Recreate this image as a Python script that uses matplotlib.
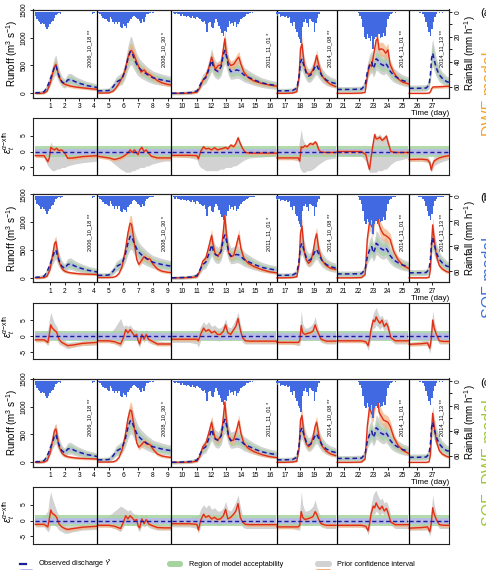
#!/usr/bin/env python3

import numpy as np
import matplotlib
matplotlib.use('Agg')
from matplotlib import pyplot as plt
from matplotlib.lines import Line2D
from matplotlib.patches import FancyBboxPatch

plt.rcParams['font.family'] = ['Liberation Sans', 'DejaVu Sans']
plt.rcParams['mathtext.fontset'] = 'custom'
plt.rcParams['mathtext.rm'] = 'Liberation Sans'
plt.rcParams['mathtext.it'] = 'Liberation Sans:italic'
plt.rcParams['axes.unicode_minus'] = False
plt.rcParams['axes.linewidth'] = 0.8
plt.rcParams['axes.edgecolor'] = '#222222'

FIG_W, FIG_H, DPI = 486, 570, 100
LEFT, RIGHT = 33, 449
RUN_TOP, RUN_H = 9.5, 88
RES_TOP, RES_H = 118, 56.5
ROW_STEP = 184.5

GREY = '#d2d2d2'
GREEN = '#a6d49e'
LAVENDER = '#b7b7ee'
ORANGE = '#f6b07e'
RED = '#de2f1b'
NAVY = '#1c1c9c'
RAIN_COLOR = '#4169e1'

# ---- events -------------------------------------------------------------
EVENT_NAMES = ['2006_10_18 **', '2008_10_30 *', '2011_11_01 *',
               '2014_10_08 **', '2014_11_01 **', '2014_11_13 **']
EVENT_END = [4.22, 9.25, 16.42, 20.52, 25.43, 28.16]

# ---- rainfall (mm/h), one bar every 0.1 day from RAIN_START ---------------
RAIN_START = [0.0, 4.3, 9.4, 16.4, 22.0, 26.1]
RAIN = [
    [3, 6, 7, 8, 10, 9, 10, 12, 14, 12, 10, 8, 7, 5, 2.5, 1.5, 1, 1.5, 0.5, 0,
     0, 0, 0, 0, 0, 0, 0, 0, 0, 0, 0, 0, 0, 0, 0, 0, 0, 0, 0, 1.5, 1],
    [1, 2, 3, 5, 6, 6, 7, 8, 4, 6, 8, 10, 8, 10, 8, 12, 13, 10, 11, 13, 9, 7, 6, 4,
     3, 4, 5, 6, 7, 9, 6, 8, 4, 2, 1.5, 1, 0.5, 1],
    [1, 2, 1, 2, 2, 3, 2, 3, 3, 4, 3, 4, 5, 3, 5, 6, 4, 5, 6, 7, 8, 7, 10, 16, 9, 8,
     12, 13, 9, 6, 8, 11, 14, 17, 19, 15, 16, 12, 7, 10, 9, 11, 8, 12, 10, 8, 6, 5,
     4, 3, 2, 1.5, 1, 0.5, 1, 0.5],
    [2, 3, 2, 4, 3, 3, 4, 3, 5, 4, 9, 11, 8, 14, 16, 20, 22, 25, 12, 8, 6, 9, 12, 6,
     7, 8, 16, 9, 5, 2],
    [1, 3, 6, 12, 20, 22, 18, 21, 23, 19, 30, 22, 20, 22, 18, 21, 20, 17, 19, 12, 6,
     3, 2, 1, 0.5, 1],
    [0.5, 1, 0.5, 2, 4, 8, 12, 16, 19, 14, 8, 4, 2, 0.5, 1, 0.5, 1, 0.5],
]

# ---- runoff (m3/s) ---------------------------------------------------------
RUN_T = [
    [0.0, 0.3, 0.6, 0.8, 1.0, 1.2, 1.3, 1.4, 1.5, 1.6, 1.8, 2.0, 2.2, 2.4, 2.7, 3.0, 3.5, 4.2],
    [4.25, 4.6, 5.0, 5.3, 5.5, 5.7, 5.9, 6.1, 6.3, 6.45, 6.55, 6.7, 6.9, 7.05, 7.2, 7.4, 7.6,
     7.8, 8.0, 8.3, 8.6, 9.0, 9.24],
    [9.3, 10.0, 10.6, 11.0, 11.2, 11.4, 11.6, 11.8, 12.0, 12.1, 12.25, 12.45, 12.65, 12.8, 12.9,
     13.0, 13.15, 13.3, 13.5, 13.7, 13.85, 14.0, 14.2, 14.5, 14.9, 15.4, 15.9, 16.4],
    [16.45, 17.0, 17.5, 17.8, 17.95, 18.05, 18.15, 18.3, 18.45, 18.6, 18.75, 18.9, 19.05, 19.15,
     19.3, 19.5, 19.8, 20.1, 20.45],
    [20.55, 21.5, 22.2, 22.45, 22.6, 22.75, 22.9, 23.0, 23.1, 23.2, 23.3, 23.4, 23.55, 23.7,
     23.85, 24.0, 24.15, 24.4, 24.7, 25.0, 25.4],
    [25.45, 26.0, 26.6, 26.8, 26.9, 26.97, 27.05, 27.15, 27.3, 27.5, 27.7, 28.0, 28.15],
]
OBS = [
    [10, 12, 30, 110, 240, 390, 470, 500, 400, 320, 210, 170, 240, 250, 210, 180, 140, 105],
    [45, 45, 50, 120, 200, 230, 260, 400, 620, 740, 750, 640, 520, 460, 420, 380, 340, 310,
     280, 260, 240, 220, 210],
    [0, 5, 15, 40, 140, 240, 280, 420, 590, 500, 420, 390, 480, 700, 770, 680, 480, 390, 400,
     420, 410, 380, 330, 290, 240, 190, 160, 140],
    [45, 45, 50, 90, 300, 560, 620, 480, 360, 310, 330, 400, 480, 510, 420, 320, 240, 200, 175],
    [70, 70, 75, 150, 380, 500, 560, 450, 500, 620, 600, 560, 520, 500, 540, 480, 400, 320,
     270, 230, 200],
    [90, 90, 95, 150, 350, 620, 720, 600, 450, 330, 270, 210, 200],
]
SIM_DWF = [
    [0, 0, 5, 40, 170, 380, 480, 520, 420, 300, 200, 165, 145, 130, 115, 105, 90, 72],
    [5, 5, 8, 40, 100, 180, 280, 400, 640, 760, 770, 700, 560, 470, 380, 420, 360, 330, 290,
     230, 190, 160, 150],
    [0, 0, 5, 20, 100, 230, 300, 450, 650, 560, 430, 500, 510, 800, 980, 700, 560, 500, 520,
     600, 650, 520, 380, 280, 220, 180, 150, 130],
    [0, 0, 5, 30, 300, 800, 890, 520, 380, 340, 360, 420, 560, 680, 500, 320, 220, 160, 120],
    [0, 0, 5, 20, 300, 520, 480, 650, 800, 950, 980, 780, 800, 780, 720, 780, 520, 370, 260,
     200, 170],
    [0, 0, 0, 5, 30, 80, 110, 115, 115, 118, 120, 125, 125],
]
SIM_SOF = [
    [0, 0, 5, 30, 150, 450, 610, 650, 480, 300, 170, 120, 100, 90, 80, 72, 66, 60],
    [5, 5, 5, 10, 30, 80, 200, 450, 800, 980, 960, 700, 330, 240, 300, 380, 340, 340, 250,
     160, 120, 100, 95],
    [0, 0, 5, 20, 120, 300, 350, 550, 760, 600, 420, 400, 480, 850, 1120, 800, 450, 380, 400,
     600, 760, 520, 350, 260, 200, 150, 110, 90],
    [0, 0, 5, 20, 250, 800, 930, 480, 320, 260, 300, 450, 700, 790, 500, 320, 220, 170, 150],
    [0, 0, 5, 60, 700, 1000, 920, 890, 1150, 1250, 1280, 950, 850, 780, 760, 730, 690, 470,
     320, 230, 170],
    [0, 0, 0, 10, 150, 600, 950, 700, 400, 220, 160, 110, 100],
]
SIM_SOFDWF = [
    [0, 0, 5, 30, 160, 430, 570, 600, 460, 290, 170, 120, 100, 90, 80, 72, 66, 60],
    [5, 5, 5, 10, 30, 90, 220, 450, 780, 940, 920, 680, 350, 270, 310, 370, 330, 320, 240,
     150, 115, 95, 90],
    [0, 0, 5, 20, 110, 280, 340, 520, 720, 580, 420, 410, 470, 820, 1080, 780, 460, 390, 400,
     580, 740, 510, 340, 250, 190, 140, 105, 85],
    [0, 0, 5, 20, 250, 760, 840, 470, 330, 280, 320, 450, 650, 720, 480, 300, 200, 150, 120],
    [0, 0, 5, 60, 650, 990, 870, 860, 1080, 1200, 1210, 900, 830, 760, 740, 720, 650, 450,
     300, 220, 160],
    [0, 0, 0, 10, 140, 560, 880, 650, 380, 210, 150, 105, 95],
]

# ---- residuals eps_t^(alpha-xth) ---------------------------------------------
RES_T = [
    [0.0, 0.6, 0.85, 0.95, 1.05, 1.15, 1.3, 1.45, 1.6, 1.8, 2.0, 2.2, 2.6, 3.2, 4.2],
    [4.25, 5.0, 5.4, 5.8, 6.0, 6.15, 6.3, 6.45, 6.6, 6.75, 6.9, 7.0, 7.1, 7.25, 7.4, 7.55,
     7.7, 7.9, 8.3, 8.8, 9.24],
    [9.3, 10.5, 11.0, 11.1, 11.25, 11.45, 11.6, 11.8, 12.0, 12.2, 12.4, 12.6, 12.8, 12.95,
     13.1, 13.3, 13.5, 13.65, 13.8, 13.95, 14.1, 14.3, 14.6, 15.2, 16.4],
    [16.45, 17.5, 17.9, 18.0, 18.1, 18.2, 18.35, 18.5, 18.7, 18.9, 19.05, 19.15, 19.3, 19.45,
     19.8, 20.45],
    [20.55, 22.2, 22.5, 22.65, 22.75, 22.85, 23.0, 23.1, 23.2, 23.3, 23.45, 23.6, 23.75, 23.9,
     24.0, 24.2, 24.5, 25.4],
    [25.45, 26.3, 26.7, 26.85, 26.95, 27.05, 27.15, 27.3, 27.5, 27.8, 28.15],
]
RES_DWF = [
    [-1.3, -1.3, -3.2, -2.0, 1.3, 0.9, 0.5, 1.0, 0.3, 0.5, -0.5, -2.1, -2.0, -1.6, -1.3],
    [-1.5, -2.0, -2.5, -2.0, -1.5, -1.0, -0.5, 0.5, -0.3, 0.5, -0.5, -1.0, 0.5, 1.3, 0.0, 0.5,
     -0.5, -1.5, -2.0, -2.0, -2.0],
    [-1.2, -1.2, -1.3, -2.3, 0.0, 1.5, 0.8, 1.0, 0.5, 1.2, 0.5, 0.8, 1.0, 1.3, 0.8, 2.0, 1.5,
     2.5, 4.3, 2.5, 1.0, -0.3, -0.5, -0.5, -0.5],
    [-2.0, -2.0, -2.0, -3.0, 1.5, 1.2, 1.8, 1.5, 2.5, 2.2, 3.0, 2.5, 0.5, -0.2, -0.3, -0.3],
    [0.0, 0.0, -1.0, -4.0, -5.6, -2.0, 2.5, 5.3, 4.0, 4.0, 4.5, 3.5, 4.0, 4.8, 3.0, 0.0, -0.3, -0.3],
    [-2.5, -2.4, -2.6, -3.5, -5.8, -4.0, -3.0, -2.5, -2.0, -1.6, -1.3],
]
RES_SOF = [
    [-1.2, -1.2, -2.0, 0.5, 3.5, 2.5, 1.8, 1.2, -1.0, -2.0, -2.5, -3.0, -2.8, -2.3, -2.0],
    [-1.5, -1.5, -1.8, -2.5, -0.5, 2.0, 1.0, 2.0, 1.0, 0.0, 0.5, -1.5, -2.5, 0.5, -1.0, 0.5,
     -1.0, -1.5, -2.5, -2.5, -2.5],
    [-1.0, -1.0, -1.0, -1.5, 0.5, 2.5, 1.5, 2.0, 1.0, 1.5, 0.5, 0.5, 1.5, 3.5, 1.0, 0.5, 2.0,
     3.0, 5.5, 2.0, -0.5, -1.5, -1.6, -1.6, -1.6],
    [-2.0, -2.0, -2.0, -1.5, 3.3, 1.0, 0.5, 0.8, 1.0, 1.5, 3.5, 2.0, 0.5, -1.0, -1.6, -1.6],
    [-1.5, -1.5, -1.8, -3.0, -1.0, 2.0, 5.0, 4.5, 6.0, 5.0, 4.0, 5.0, 3.0, 4.0, 3.0, -0.5, -1.5, -1.5],
    [-2.6, -2.4, -2.2, -3.8, -1.0, 5.0, 2.5, 0.5, -1.5, -1.7, -1.7],
]
RES_SOFDWF = [
    [-1.2, -1.2, -2.0, 0.5, 3.3, 2.2, 1.8, 1.0, -1.0, -2.0, -2.5, -2.8, -2.5, -2.1, -1.8],
    [-1.5, -1.5, -1.8, -2.5, -0.5, 1.5, 0.5, 1.5, 0.8, 0.0, 0.3, -1.8, -2.3, 0.5, -1.0, 0.3,
     -1.0, -1.5, -2.2, -2.3, -2.3],
    [-1.0, -1.0, -1.2, -3.0, 0.0, 2.0, 1.0, 1.5, 0.5, 1.0, 0.3, 0.5, 1.5, 3.5, 0.5, 1.0, 2.0,
     3.0, 5.3, 1.0, -0.5, -1.2, -1.3, -1.3, -1.3],
    [-2.0, -2.0, -2.0, -1.5, 2.8, 1.0, 0.3, 0.5, 0.8, 1.2, 2.8, 2.0, 0.3, -1.0, -1.5, -1.5],
    [-1.5, -1.5, -1.8, -3.2, -1.0, 2.0, 4.5, 4.0, 5.5, 4.5, 3.5, 4.5, 3.0, 3.8, 2.5, -0.5, -1.3, -1.3],
    [-2.4, -2.2, -2.0, -3.5, -1.0, 4.0, 2.0, 0.3, -1.3, -1.5, -1.5],
]

# prior confidence interval of the residuals
PRIOR_LO_DWF = [
    [-1.5, -2.0, -4.5, -5.0, -5.5, -6.0, -6.0, -5.5, -5.5, -5.0, -5.0, -4.5, -4.0, -3.5, -3.0],
    [-1.5, -2.5, -4.0, -5.5, -6.0, -6.5, -6.5, -6.5, -6.0, -6.0, -5.5, -5.5, -5.0, -5.0, -5.0,
     -4.5, -4.5, -4.0, -3.5, -3.0, -3.0],
    [-1.5, -2.0, -2.5, -4.0, -5.0, -5.5, -6.0, -6.0, -6.0, -6.0, -6.0, -5.5, -5.5, -5.0, -5.0,
     -5.0, -4.5, -4.5, -4.0, -3.5, -3.0, -2.5, -2.0, -1.8, -1.5],
    [-2.5, -2.5, -3.0, -5.0, -6.0, -6.5, -6.5, -6.0, -6.0, -5.5, -5.0, -4.5, -4.0, -3.5, -2.5, -2.0],
    [-1.0, -1.5, -3.0, -5.5, -6.5, -6.5, -6.5, -6.5, -6.5, -6.0, -6.0, -6.0, -5.5, -5.5, -5.0,
     -4.0, -3.0, -2.0],
    [-3.0, -3.0, -3.5, -4.5, -6.5, -5.5, -4.5, -4.0, -3.5, -3.0, -2.5],
]
PRIOR_HI_DWF = [
    [1.0, 1.0, 1.0, 1.2, 3.0, 2.0, 1.5, 1.5, 1.2, 1.0, 1.0, 1.0, 1.0, 1.0, 1.0],
    [1.0, 1.0, 1.0, 1.0, 1.0, 1.0, 1.0, 1.5, 1.0, 1.5, 1.0, 1.0, 1.5, 2.0, 1.0, 1.5, 1.0, 1.0,
     1.0, 1.0, 1.0],
    [1.0, 1.0, 1.0, 1.0, 1.0, 2.0, 1.5, 1.5, 1.0, 1.5, 1.0, 1.0, 1.5, 2.0, 1.5, 2.5, 2.0, 3.0,
     5.0, 3.0, 1.5, 1.0, 1.0, 1.0, 1.0],
    [1.0, 1.0, 1.0, 4.0, 7.0, 4.0, 2.5, 2.0, 3.0, 3.0, 3.5, 3.0, 1.0, 1.0, 1.0, 1.0],
    [1.0, 1.0, 1.0, 1.0, 1.0, 1.5, 3.5, 6.0, 5.0, 5.0, 5.5, 4.5, 5.0, 5.5, 4.0, 1.0, 1.0, 1.0],
    [-1.5, -1.5, -1.5, -2.5, -4.0, -2.5, -1.5, -1.0, -0.5, -0.5, -0.5],
]
PRIOR_LO_SOF = [
    [-1.8, -1.8, -3.0, -2.0, 0.5, 0.0, -0.5, -1.0, -2.5, -3.0, -3.5, -4.0, -3.5, -3.0, -2.8],
    [-2.0, -2.0, -2.5, -3.5, -2.0, -0.5, -1.0, -0.5, -1.0, -1.5, -1.0, -3.0, -3.5, -1.0, -2.0,
     -1.0, -2.0, -2.5, -3.0, -3.0, -3.0],
    [-2.0, -2.0, -2.5, -3.5, -1.5, 0.5, -0.5, 0.0, -1.0, -0.5, -1.5, -1.5, -0.5, 1.0, -1.0,
     -1.5, 0.0, 0.5, 2.0, 0.0, -2.0, -2.5, -2.5, -2.5, -2.5],
    [-2.5, -2.5, -3.0, -3.0, 0.5, -1.0, -1.5, -1.0, -1.0, -0.5, 1.0, 0.0, -1.0, -2.0, -2.5, -2.5],
    [-2.0, -2.0, -2.5, -4.5, -3.0, 0.0, 2.5, 2.5, 3.5, 3.0, 2.0, 3.0, 1.5, 2.0, 1.0, -1.5, -2.5, -2.5],
    [-3.0, -3.0, -3.0, -5.5, -3.0, 2.0, 0.5, -1.0, -2.5, -2.5, -2.5],
]
PRIOR_HI_SOF = [
    [-0.5, 0.0, 2.0, 5.0, 7.5, 6.0, 4.0, 3.0, 1.0, 0.0, -1.5, -2.0, -1.8, -1.5, -1.2],
    [0.0, 0.5, 2.5, 5.5, 3.0, 3.5, 3.0, 3.5, 2.5, 2.0, 2.0, 0.5, 0.0, 2.0, 1.0, 2.0, 0.5, 0.0,
     -1.5, -1.8, -1.8],
    [0.0, 0.5, 1.0, 1.0, 3.0, 4.5, 3.5, 4.5, 3.0, 3.5, 2.5, 2.5, 3.5, 5.5, 3.0, 2.5, 4.0, 5.5,
     7.5, 4.0, 1.0, 0.0, -0.5, -0.8, -0.8],
    [-1.0, -1.0, -0.5, 2.0, 8.0, 4.0, 2.5, 2.5, 3.0, 4.0, 6.0, 4.0, 2.0, 0.5, -1.0, -1.0],
    [-1.0, -1.0, -1.0, -1.0, 1.0, 4.0, 7.0, 8.0, 9.0, 7.5, 6.0, 6.5, 5.0, 5.5, 4.5, 1.0, -0.8, -0.8],
    [-2.0, -1.5, -1.0, -2.0, 2.0, 8.0, 5.0, 2.0, -0.5, -1.0, -1.0],
]
PRIOR_LO_SOFDWF = [
    [-2.0, -2.0, -3.5, -3.0, -1.0, -1.0, -1.5, -2.0, -3.0, -3.5, -4.0, -4.0, -3.5, -3.0, -2.8],
    [-2.0, -2.0, -2.5, -3.5, -2.0, -1.0, -1.5, -1.0, -1.5, -1.5, -1.5, -3.0, -3.5, -1.5, -2.0,
     -1.5, -2.0, -2.5, -3.0, -3.0, -3.0],
    [-2.0, -2.0, -2.5, -4.0, -2.0, 0.0, -1.0, -0.5, -1.0, -1.0, -1.5, -1.5, -0.5, 1.0, -1.0,
     -1.0, 0.0, 0.5, 2.0, -0.5, -2.0, -2.5, -2.5, -2.5, -2.5],
    [-2.5, -2.5, -3.0, -3.0, 0.0, -1.0, -1.5, -1.5, -1.0, -1.0, 0.5, 0.0, -1.0, -2.0, -2.5, -2.5],
    [-2.0, -2.0, -2.5, -4.5, -3.0, 0.0, 2.0, 2.0, 3.0, 2.5, 1.5, 2.5, 1.5, 2.0, 1.0, -1.5, -2.5, -2.5],
    [-3.0, -3.0, -3.0, -5.0, -3.0, 1.5, 0.5, -1.0, -2.5, -2.5, -2.5],
]
PRIOR_HI_SOFDWF = [
    [0.0, 1.5, 3.0, 7.0, 9.0, 7.0, 5.0, 3.0, 1.5, 0.5, -1.0, -1.5, -1.5, -1.2, -1.0],
    [0.5, 1.5, 3.0, 4.5, 4.0, 3.5, 3.0, 3.5, 2.5, 2.0, 2.0, 1.0, 0.5, 2.0, 1.0, 2.0, 0.5, 0.0,
     -1.0, -1.5, -1.5],
    [0.5, 1.0, 1.5, 1.5, 3.5, 5.0, 4.0, 5.0, 3.5, 4.0, 3.0, 3.0, 4.0, 6.0, 3.5, 3.0, 4.5, 6.0,
     8.0, 4.5, 1.5, 0.5, 0.0, -0.5, -0.5],
    [-0.5, 0.0, 0.5, 3.0, 9.0, 5.0, 3.0, 3.0, 3.5, 4.5, 6.5, 4.5, 2.5, 1.0, -0.5, -0.5],
    [-0.5, 0.0, 0.5, 0.5, 2.0, 5.0, 8.0, 9.0, 9.5, 8.0, 6.5, 7.0, 5.5, 6.0, 5.0, 1.5, -0.5, -0.5],
    [-1.5, -1.0, -0.5, -1.5, 2.5, 8.0, 5.0, 2.0, 0.0, -0.8, -0.8],
]

# band widths (relative factor, absolute pad)
PRIOR_Q, PRIOR_PAD = (0.72, 1.32), 30
ACCEPT_Q, ACCEPT_PAD = (0.82, 1.18), 20
OBS_ERR_Q, OBS_ERR_PAD = (0.91, 1.09), 10
POST_Q, POST_PAD = (0.86, 1.14), 12
ACCEPT_EPS = (-1.7, 1.7)
OBS_ERR_EPS = (-1.1, 0.8)
POST_EPS = 0.6

MODELS = [
    ('(a)', 'DWF model', '#f3a52c', SIM_DWF, RES_DWF, PRIOR_LO_DWF, PRIOR_HI_DWF),
    ('(b)', 'SOF model', '#3d6fd9', SIM_SOF, RES_SOF, PRIOR_LO_SOF, PRIOR_HI_SOF),
    ('(c)', 'SOF\u2212DWF model', '#9dc832', SIM_SOFDWF, RES_SOFDWF, PRIOR_LO_SOFDWF, PRIOR_HI_SOFDWF),
]

TICK_SIZE = 4.8
XLIM = (-0.16, 28.16)

fig = plt.figure(figsize=(FIG_W / DPI, FIG_H / DPI), dpi=DPI)


def px_axes(top, bottom):
    return fig.add_axes([LEFT / FIG_W, 1 - bottom / FIG_H,
                         (RIGHT - LEFT) / FIG_W, (bottom - top) / FIG_H])


def fy(y_px):
    return 1 - y_px / FIG_H


def draw_separators(ax):
    for end in EVENT_END[:-1]:
        ax.axvline(end, color='black', lw=0.9, zorder=10)


def draw_runoff(ax, sim):
    for i in range(len(EVENT_END)):
        t = np.array(RUN_T[i])
        q = np.array(OBS[i], dtype=float)
        s = np.array(sim[i], dtype=float)
        ax.fill_between(t, q * PRIOR_Q[0] - PRIOR_PAD, q * PRIOR_Q[1] + PRIOR_PAD,
                        color=GREY, lw=0, zorder=1)
        ax.fill_between(t, q * ACCEPT_Q[0] - ACCEPT_PAD, q * ACCEPT_Q[1] + ACCEPT_PAD,
                        color=GREEN, alpha=0.8, lw=0, zorder=2)
        ax.fill_between(t, q * OBS_ERR_Q[0] - OBS_ERR_PAD, q * OBS_ERR_Q[1] + OBS_ERR_PAD,
                        color=LAVENDER, alpha=0.75, lw=0, zorder=3)
        ax.fill_between(t, s * POST_Q[0] - POST_PAD, s * POST_Q[1] + POST_PAD,
                        color=ORANGE, alpha=0.7, lw=0, zorder=4)
        ax.plot(t, s, color=RED, lw=1.0, zorder=5)
        ax.plot(t, q, color=NAVY, lw=1.1, ls=(0, (3, 2)), zorder=6)
    ax.set_xlim(*XLIM)
    ax.set_ylim(-75, 1505)
    ax.set_yticks([0, 500, 1000, 1500])
    ax.set_xticks(range(1, 28))
    ax.tick_params(axis='both', direction='out', length=2.5, width=0.6,
                   labelsize=TICK_SIZE, pad=1.5)
    ax.tick_params(axis='y', labelrotation=90)
    for lab in ax.get_yticklabels():
        lab.set_va('center')
    ax.text(1.0, -0.185, "Time (day)", transform=ax.transAxes, ha='right', va='center',
            fontsize=5.8)
    for i, name in enumerate(EVENT_NAMES):
        ax.text(EVENT_END[i] - 0.5, 0.35, name, transform=ax.get_xaxis_transform(),
                rotation=90, ha='center', va='bottom', fontsize=4.1, zorder=11)
    draw_separators(ax)


def draw_rain(ax):
    rax = ax.twinx()
    for start, vals in zip(RAIN_START, RAIN):
        x = start + 0.1 * np.arange(len(vals))
        rax.bar(x, vals, width=0.1, color=RAIN_COLOR, linewidth=0, zorder=3)
    rax.set_xlim(*XLIM)
    rax.set_ylim(68.6, -1.8)
    rax.set_yticks([0, 20, 40, 60])
    rax.set_yticks([10, 30, 50], minor=True)
    rax.tick_params(axis='y', which='both', direction='out', length=2.5, width=0.6,
                    labelsize=TICK_SIZE, pad=1.5, labelrotation=90)
    for lab in rax.get_yticklabels():
        lab.set_va('center')
    return rax


def draw_residual(ax, res, lo, hi):
    for i in range(len(EVENT_END)):
        t = np.array(RES_T[i])
        e = np.array(res[i])
        ax.fill_between(t, lo[i], hi[i], color=GREY, lw=0, zorder=1)
        ax.fill_between([t[0], t[-1]], ACCEPT_EPS[0], ACCEPT_EPS[1], color=GREEN,
                        alpha=0.85, lw=0, zorder=2)
        ax.fill_between([t[0], t[-1]], OBS_ERR_EPS[0], OBS_ERR_EPS[1], color=LAVENDER,
                        alpha=0.85, lw=0, zorder=3)
        ax.fill_between(t, e - POST_EPS, e + POST_EPS, color=ORANGE, alpha=0.7, lw=0, zorder=4)
        ax.plot(t, e, color=RED, lw=1.0, zorder=5)
        ax.plot([t[0], t[-1]], [0, 0], color=NAVY, lw=1.0, ls=(0, (3, 2)), zorder=6)
    ax.set_xlim(*XLIM)
    ax.set_ylim(-7.2, 10.5)
    ax.set_xticks([])
    ax.set_yticks([-5, 0, 5])
    ax.tick_params(axis='y', direction='out', length=2.5, width=0.6,
                   labelsize=TICK_SIZE, pad=1.5, labelrotation=90)
    for lab in ax.get_yticklabels():
        lab.set_va('center')
    draw_separators(ax)


for k, (tag, name, color, sim, res, lo, hi) in enumerate(MODELS):
    top = RUN_TOP + k * ROW_STEP
    ax = px_axes(top, top + RUN_H)
    draw_runoff(ax, sim)
    draw_rain(ax)
    rtop = RES_TOP + k * ROW_STEP
    eax = px_axes(rtop, rtop + RES_H)
    draw_residual(eax, res, lo, hi)

    mid = top + RUN_H / 2
    fig.text(12 / FIG_W, fy(mid), r'Runoff (m$^3$ s$^{-1}$)', rotation=90,
             ha='center', va='center', fontsize=7)
    fig.text(470 / FIG_W, fy(mid), r'Rainfall (mm h$^{-1}$)', rotation=90,
             ha='center', va='center', fontsize=7)
    fig.text(9 / FIG_W, fy(rtop + RES_H / 2 - 4), r'$\varepsilon_t^{\alpha\mathrm{-xth}}$',
             rotation=90, ha='center', va='center', fontsize=7)
    # panel tag and model name sit at the right page edge and are partly cut off
    fig.text(480 / FIG_W, fy(top + 4), tag, ha='left', va='center', fontsize=8)
    fig.text(481.5 / FIG_W, fy(top + 84), name, rotation=90, ha='left', va='center',
             fontsize=11.5, color=color)

# ---- legend (bottom, second row runs off the page) --------------------------
lax = fig.add_axes([0, 0, 1, 1], facecolor='none')
lax.set_xlim(0, FIG_W)
lax.set_ylim(FIG_H, 0)
lax.axis('off')
LEG_FONT = 5.2
row1, row2 = 564, 574
lax.add_line(Line2D([20, 26], [row1, row1], color=NAVY, lw=1.6))
lax.text(38, row1, r'Observed discharge $\hat{Y}$', va='center', fontsize=LEG_FONT)
lax.add_patch(FancyBboxPatch((167, row1 - 3), 16, 6, boxstyle='round,pad=0,rounding_size=3',
                             color=GREEN, lw=0))
lax.text(189, row1, 'Region of model acceptability', va='center', fontsize=LEG_FONT)
lax.add_patch(FancyBboxPatch((315, row1 - 3), 17, 6, boxstyle='round,pad=0,rounding_size=3',
                             color=GREY, lw=0))
lax.text(337, row1, 'Prior confidence interval', va='center', fontsize=LEG_FONT)
lax.add_patch(FancyBboxPatch((19, row2 - 5), 15, 6, boxstyle='round,pad=0,rounding_size=3',
                             color=LAVENDER, lw=0))
lax.text(38, row2 + 1, r'Observational error of $\hat{Y}$', va='center', fontsize=LEG_FONT)
lax.add_line(Line2D([167, 183], [row2 - 1, row2 - 1], color=RED, lw=1.2))
lax.text(189, row2 + 1, r'Simulated discharge $Y^{(i)}$', va='center', fontsize=LEG_FONT)
lax.add_patch(FancyBboxPatch((315, row2 - 5), 17, 6, boxstyle='round,pad=0,rounding_size=3',
                             color=ORANGE, lw=0))
lax.text(337, row2 + 1, 'Posterior confidence interval', va='center', fontsize=LEG_FONT)

fig.savefig('out.png', dpi=DPI)
